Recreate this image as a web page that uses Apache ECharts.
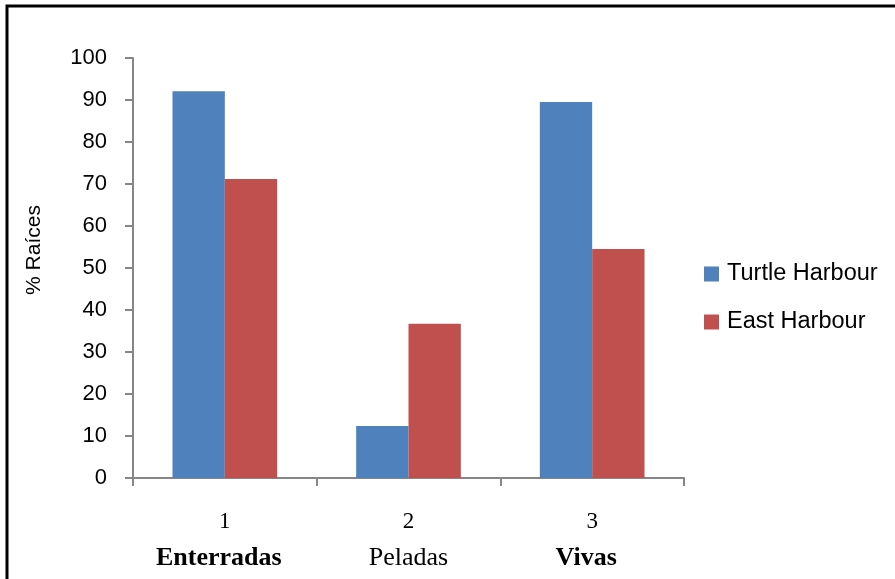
<!DOCTYPE html>
<html><head><meta charset="utf-8">
<script src="https://cdn.jsdelivr.net/npm/echarts@6/dist/echarts.min.js"></script>
<style>html,body{margin:0;padding:0;background:#fff}#c{width:895px;height:579px}</style>
</head><body><div id="c"></div>
<script>
const categories = ['1', '2', '3'];
const categoryNames = ['Enterradas', 'Peladas', 'Vivas'];
const categoryBold = [true, false, true];
const turtleHarbour = [92.1, 12.4, 89.5];
const eastHarbour = [71.2, 36.7, 54.5];
const yTicks = [0, 10, 20, 30, 40, 50, 60, 70, 80, 90, 100];
const yTitle = '% Raíces';

const chart = echarts.init(document.getElementById('c'));
const axisCol = '#868686';
chart.setOption({
  animation: false,
  graphic: [
    {type: 'rect', shape: {x: 7, y: 6, width: 900, height: 600}, style: {fill: 'none', stroke: '#000', lineWidth: 3}},
    {type: 'text', x: 34, y: 250, rotation: Math.PI / 2,
     style: {text: yTitle, fontFamily: 'Liberation Sans', fontSize: 21, fill: '#000', textAlign: 'center', textVerticalAlign: 'middle'}}
  ],
  grid: {left: 133, right: 211, top: 58, bottom: 101},
  legend: {
    orient: 'vertical', left: 699, top: 257, itemGap: 24, itemWidth: 15, itemHeight: 15,
    icon: 'rect',
    textStyle: {fontFamily: 'Liberation Sans', fontSize: 23.5, color: '#000', padding: [0, 0, 0, 3]},
    data: ['Turtle Harbour', 'East Harbour']
  },
  xAxis: {
    type: 'category', data: categories,
    axisLine: {lineStyle: {color: axisCol, width: 2}},
    axisTick: {show: true, interval: 0, length: 8, lineStyle: {color: axisCol, width: 2}},
    axisLabel: {
      interval: 0, hideOverlap: false,
      margin: 26, lineHeight: 36, fontSize: 24, fontFamily: 'Liberation Serif', color: '#000',
      formatter: function (v, i) {
        return '{n|' + v + '}\n{' + (categoryBold[i] ? 'b' : 'r') + '|' + categoryNames[i] + '}';
      },
      rich: {
        n: {fontFamily: 'Liberation Serif', fontSize: 23, color: '#000', lineHeight: 36},
        b: {fontFamily: 'Liberation Serif', fontSize: 26, fontWeight: 'bold', color: '#000', lineHeight: 36, padding: [0, 12, 0, 0]},
        r: {fontFamily: 'Liberation Serif', fontSize: 26, color: '#000', lineHeight: 36}
      }
    }
  },
  yAxis: {
    type: 'value', min: 0, max: 100, interval: 10,
    axisLine: {show: true, lineStyle: {color: axisCol, width: 2}},
    axisTick: {show: true, length: 8, lineStyle: {color: axisCol, width: 2}},
    splitLine: {show: false},
    axisLabel: {fontFamily: 'Liberation Sans', fontSize: 22, color: '#000', margin: 26,
      formatter: function (v) { return yTicks.indexOf(v) >= 0 ? String(v) : ''; }}
  },
  series: [
    {name: 'Turtle Harbour', type: 'bar', data: turtleHarbour, itemStyle: {color: '#4F81BD'}, barGap: '0%', barCategoryGap: '43%'},
    {name: 'East Harbour', type: 'bar', data: eastHarbour, itemStyle: {color: '#C0504D'}, barGap: '0%', barCategoryGap: '43%'}
  ]
});
</script></body></html>
